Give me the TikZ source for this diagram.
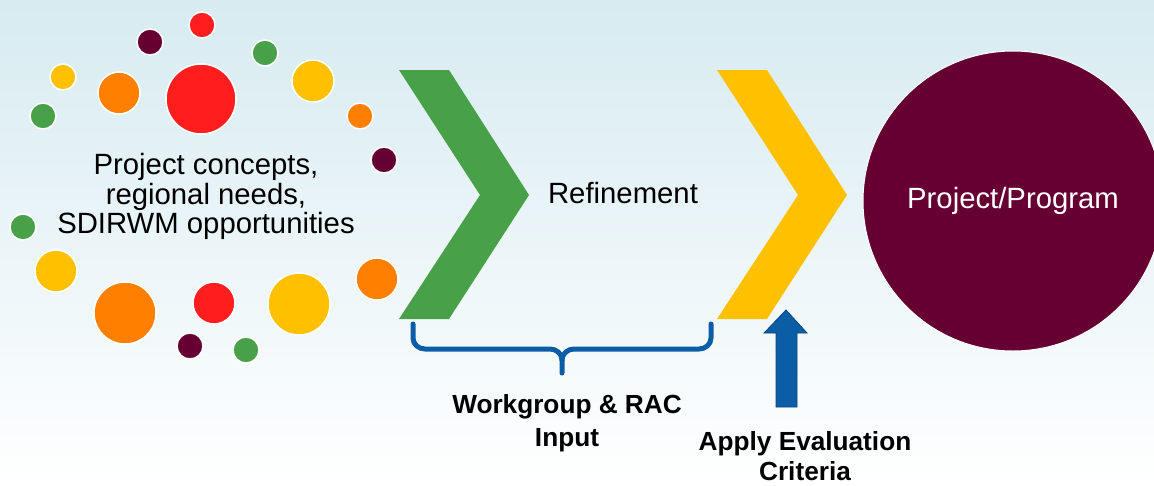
\documentclass[tikz,border=0pt]{standalone}
\usepackage{fontspec}
\setmainfont{Liberation Sans}
\definecolor{bgtop}{RGB}{215,235,241}
\definecolor{cred}{RGB}{255,30,30}
\definecolor{corange}{RGB}{255,128,0}
\definecolor{cyellow}{RGB}{255,192,0}
\definecolor{cgreen}{RGB}{72,160,72}
\definecolor{cmaroon}{RGB}{102,0,51}
\definecolor{cblue}{RGB}{11,94,165}
\definecolor{cblueedge}{RGB}{8,70,130}
\tikzset{
  dot/.style={circle, fill=#1, draw=white, line width=1.5pt, inner sep=0pt},
  plain/.style={font=\fontsize{29.3}{29.5}\selectfont, align=center, inner sep=0pt},
  boldlbl/.style={font=\bfseries\fontsize{26.2}{33.5}\selectfont, align=center, inner sep=0pt},
}
\begin{document}
\begin{tikzpicture}[x=1pt,y=-1pt]
\useasboundingbox (0,0) rectangle (1154,485);
\shade[top color=bgtop, bottom color=white] (0,0) rectangle (1154,485);

% dots
\node[dot=cmaroon, minimum size=26pt] (c1) at (150,42) {};
\node[dot=cred, minimum size=26pt] (c2) at (202,25) {};
\node[dot=cgreen, minimum size=26pt] (c3) at (265,53) {};
\node[dot=cyellow, minimum size=26pt] (c4) at (63,77) {};
\node[dot=corange, minimum size=42pt] (c5) at (119,93) {};
\node[dot=cred, minimum size=70pt] (c6) at (201,99) {};
\node[dot=cyellow, minimum size=42pt] (c7) at (313,81) {};
\node[dot=cgreen, minimum size=26pt] (c8) at (43,116) {};
\node[dot=corange, minimum size=26pt] (c9) at (360,116) {};
\node[dot=cmaroon, minimum size=26pt] (c10) at (384,160) {};
\node[dot=cgreen, minimum size=26pt] (c11) at (23,227) {};
\node[dot=cyellow, minimum size=42pt] (c12) at (56,271) {};
\node[dot=corange, minimum size=62pt] (c13) at (125,313) {};
\node[dot=cred, minimum size=42pt] (c14) at (214,303) {};
\node[dot=cyellow, minimum size=62pt] (c15) at (299,304) {};
\node[dot=corange, minimum size=42pt] (c16) at (377,279) {};
\node[dot=cmaroon, minimum size=26pt] (c17) at (190,346) {};
\node[dot=cgreen, minimum size=26pt] (c18) at (246,350) {};

\node[plain] (concepts) at (206,196.6) {Project concepts,\\regional needs,\\SDIRWM opportunities};

% chevrons
\fill[cgreen] (399,70) -- (449,70) -- (529,195) -- (449,319) -- (399,319) -- (480,195) -- cycle;
\fill[cyellow] (717,70) -- (767,70) -- (847,195) -- (767,319) -- (717,319) -- (798,195) -- cycle;

\node[plain, anchor=base] (refine) at (623,203) {Refinement};

% final circle
\node[circle, fill=cmaroon, draw=white, line width=1pt, minimum size=300pt, inner sep=0pt,
      text=white, font=\fontsize{29.3}{29.5}\selectfont] (prog) at (1013,201) {Project/Program};

% brace
\coordinate (bl) at (413,324);
\coordinate (br) at (711,324);
\coordinate (bm) at (562,373);
\draw[cblue, line width=5pt, line cap=round, line join=round]
  (bl) -- (413,338) to[out=-90,in=180] (425,349) -- (550,349) to[out=0,in=90] (bm |- 0,360) -- (bm);
\draw[cblue, line width=5pt, line cap=round, line join=round]
  (br) -- (711,338) to[out=-90,in=0] (699,349) -- (574,349) to[out=180,in=90] (bm |- 0,360);

\node[boldlbl] (work) at (567,423.4) {Workgroup \& RAC\\Input};

% arrow
\draw[fill=cblue, draw=cblueedge, line width=0.8pt, line join=miter]
  (776,407) -- (776,333) -- (764,333) -- (786,310) -- (807,333) -- (797,333) -- (797,407) -- cycle;

\node[boldlbl, font=\bfseries\fontsize{26.2}{30}\selectfont] (apply) at (805,455.9) {Apply Evaluation\\Criteria};
\end{tikzpicture}
\end{document}
